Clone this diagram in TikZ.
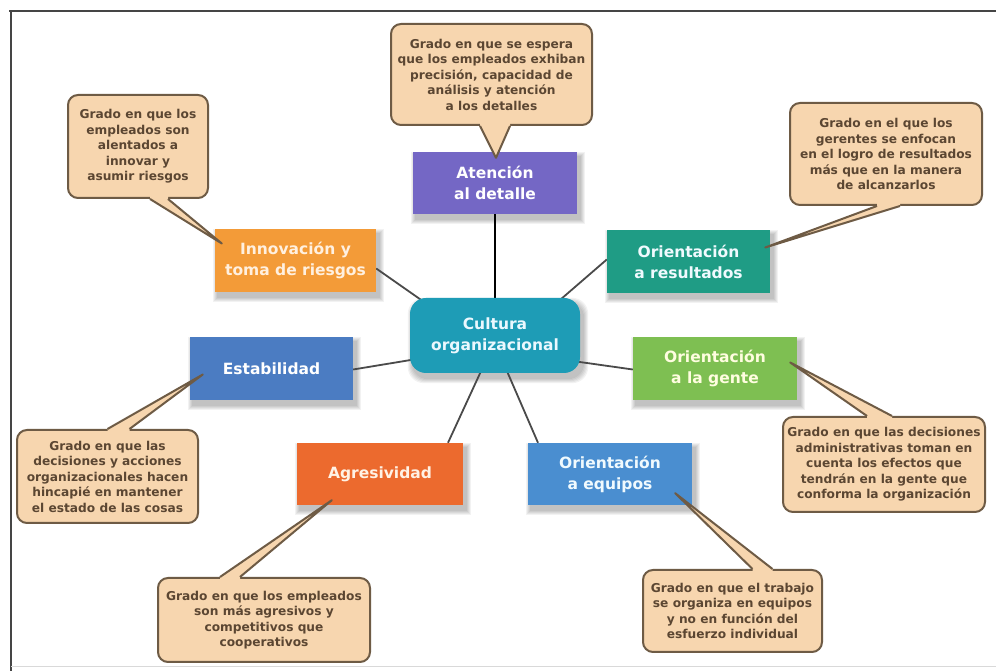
\documentclass[tikz,border=0pt]{standalone}
\usepackage{fontspec}
\setmainfont{DejaVu Sans}
\usetikzlibrary{calc}

\definecolor{callfillc}{HTML}{F7D6AF}
\definecolor{calllinec}{HTML}{6E5B45}
\definecolor{calltextc}{HTML}{5B4632}
\definecolor{attc}{HTML}{7467C5}
\definecolor{innc}{HTML}{F39B38}
\definecolor{resc}{HTML}{1F9C85}
\definecolor{culc}{HTML}{1E9CB6}
\definecolor{estc}{HTML}{4B7CC2}
\definecolor{genc}{HTML}{7EBF52}
\definecolor{agrc}{HTML}{EC6A2E}
\definecolor{equc}{HTML}{4A8ED0}
\definecolor{linkc}{HTML}{4A4A4A}
\definecolor{framec}{HTML}{454545}

\pgfdeclarelayer{bg}
\pgfsetlayers{bg,main}

\tikzset{
  box/.style={rectangle, inner sep=0pt, align=center, text=white,
    font=\fontsize{15.5}{21}\selectfont\bfseries},
  callout/.style={rectangle, rounded corners=10pt, inner sep=0pt, align=center,
    fill=callfillc, draw=calllinec, line width=2pt, text=calltextc,
    font=\fontsize{12.2}{15.5}\selectfont\bfseries},
  calledge/.style={draw=calllinec, line width=2pt, line join=round},
  link/.style={draw=linkc, line width=1.8pt},
  softshadow/.style={black, opacity=0.05},
}

% tail of a callout: #1 callout, #2 anchor, #3/#4 base offsets, #5 tip, #6 inward shift
\newcommand\ctail[6]{%
  \fill[callfillc] ($(#1.#2)+(#3,#6)$) -- ($(#1.#2)+(#3,0)$) -- (#5)
     -- ($(#1.#2)+(#4,0)$) -- ($(#1.#2)+(#4,#6)$) -- cycle;
  \draw[calledge] ($(#1.#2)+(#3,0)$) -- (#5) -- ($(#1.#2)+(#4,0)$);
}

\begin{document}
\begin{tikzpicture}[x=1pt,y=1pt]
\useasboundingbox (0,0) rectangle (996,671);
\begin{pgfonlayer}{bg}
  \fill[white] (0,0) rectangle (996,671);
\end{pgfonlayer}

% frame
\draw[framec, line width=2.5pt] (9,660) -- (996,660);
\draw[framec, line width=2.5pt] (11,660) -- (11,0);
\draw[black!15, line width=1pt] (11,4) -- (996,4);

% central node
\node[box, rounded corners=16pt, fill=culc, text=cyan!8, minimum width=170pt, minimum height=75pt]
  (cul) at (495,335.5) {Cultura\\organizacional};

% dimension boxes
\node[box, fill=attc, minimum width=164pt, minimum height=62pt] (att) at (495,488) {Atención\\al detalle};
\node[box, fill=innc, text=orange!12, minimum width=161pt, minimum height=63pt] (inn) at (295.5,410.5) {Innovación y\\toma de riesgos};
\node[box, fill=resc, text=cyan!6, minimum width=163pt, minimum height=63pt] (res) at (688.5,409.5) {Orientación\\a resultados};
\node[box, fill=estc, minimum width=163pt, minimum height=63pt] (est) at (271.5,302.5) {Estabilidad};
\node[box, fill=genc, text=yellow!12, minimum width=164pt, minimum height=63pt] (gen) at (715,302.5) {Orientación\\a la gente};
\node[box, fill=agrc, text=orange!10, minimum width=166pt, minimum height=62pt] (agr) at (380,197) {Agresividad};
\node[box, fill=equc, text=cyan!6, minimum width=164pt, minimum height=62pt] (equ) at (610,197) {Orientación\\a equipos};

\begin{pgfonlayer}{bg}
  % soft shadows under the boxes
  \foreach \s in {1,...,5}
    \fill[softshadow, rounded corners=16pt]
      ($(cul.south west)+(3-\s,-5-\s)$) rectangle ($(cul.north east)+(3+\s,-5+\s)$);
  \foreach \n in {att,inn,res,est,gen,agr,equ}
    \foreach \s in {1,...,5}
      \fill[softshadow]
        ($(\n.south west)+(3-\s,-5-\s)$) rectangle ($(\n.north east)+(3+\s,-5+\s)$);
  % links from the centre, behind the boxes
  \draw[link, draw=black, line width=2pt] (att.south) -- (cul.north);
  \draw[link] ($(inn.east)+(0,-8)$) -- ($(cul.north west)+(14,-4)$);
  \draw[link] ($(res.west)+(0,2)$) -- ($(cul.north east)+(-20,-2)$);
  \draw[link] ($(est.east)+(0,-1)$) -- ($(cul.west)+(4,-24)$);
  \draw[link] ($(gen.west)+(0,-1)$) -- ($(cul.east)+(-4,-26)$);
  \draw[link] ($(agr.north)+(68,0)$) -- ($(cul.south)+(-14,2)$);
  \draw[link] ($(equ.north)+(-72,0)$) -- ($(cul.south)+(12,2)$);
\end{pgfonlayer}

% callouts
\node[callout, minimum width=201pt, minimum height=101pt] (catt) at (491.5,596.5)
  {Grado en que se espera\\que los empleados exhiban\\precisión, capacidad de\\análisis y atención\\a los detalles};
\node[callout, minimum width=140pt, minimum height=103pt] (cinn) at (138,524.5)
  {Grado en que los\\empleados son\\alentados a\\innovar y\\asumir riesgos};
\node[callout, minimum width=192pt, minimum height=102pt] (cres) at (886,517)
  {Grado en el que los\\gerentes se enfocan\\en el logro de resultados\\más que en la manera\\de alcanzarlos};
\node[callout, minimum width=181pt, minimum height=93pt] (cest) at (107.5,194.5)
  {Grado en que las\\decisiones y acciones\\organizacionales hacen\\hincapié en mantener\\el estado de las cosas};
\node[callout, minimum width=202pt, minimum height=95pt] (cgen) at (884,206.5)
  {Grado en que las decisiones\\administrativas toman en\\cuenta los efectos que\\tendrán en la gente que\\conforma la organización};
\node[callout, minimum width=212pt, minimum height=84pt] (cagr) at (264,51)
  {Grado en que los empleados\\son más agresivos y\\competitivos que\\cooperativos};
\node[callout, minimum width=179pt, minimum height=82pt] (cequ) at (732.5,60)
  {Grado en que el trabajo\\se organiza en equipos\\y no en función del\\esfuerzo individual};

% tail tips inside the boxes
\coordinate (tatt) at ($(att.north)+(1,-6)$);
\coordinate (tinn) at ($(inn.west)+(7,17)$);
\coordinate (tres) at ($(res.east)+(-5,14)$);
\coordinate (test) at ($(est.west)+(13,-6)$);
\coordinate (tgen) at ($(gen.east)+(-7,6)$);
\coordinate (tagr) at ($(agr.south west)+(35,5)$);
\coordinate (tequ) at ($(equ.south east)+(-17,12)$);

% callout tails
\ctail{catt}{south}{-11.5}{18.5}{tatt}{4}
\ctail{cinn}{south}{12}{30}{tinn}{4}
\ctail{cres}{south}{-9}{14}{tres}{4}
\ctail{cest}{north}{0}{22}{test}{-4}
\ctail{cgen}{north}{-17}{8}{tgen}{-4}
\ctail{cagr}{north}{-44}{-24}{tagr}{-4}
\ctail{cequ}{north}{20}{40}{tequ}{-4}
\end{tikzpicture}
\end{document}
